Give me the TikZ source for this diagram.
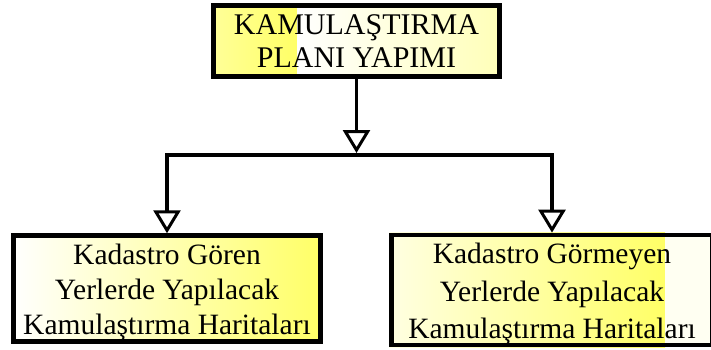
\documentclass[tikz,border=0pt]{standalone}
\usepackage{fontspec}
\setmainfont{Liberation Serif}
\usetikzlibrary{arrows.meta,backgrounds}
\definecolor{ydeep}{HTML}{FFFF66}
\definecolor{ysoft}{HTML}{FFFF99}
\definecolor{ypale}{HTML}{FFFFB8}
\definecolor{ycream}{HTML}{FFFFE2}
\definecolor{yfaint}{HTML}{FFFFF2}
\newcommand{\tallstrut}{\rule{0pt}{29pt}}
\begin{document}
\begin{tikzpicture}[x=1pt,y=-1pt,
  box/.style={draw, line width=4.5pt, align=center, inner sep=0pt,
              font=\fontsize{29.5}{35}\selectfont},
  link/.style={line width=3.5pt},
  arr/.style={link, -{Triangle[open,length=23pt,width=27pt,line width=3pt]}}]
\useasboundingbox (0,0) rectangle (711,349);

% boxes
\node[box, minimum width=286pt, minimum height=71pt,
      font=\fontsize{30}{32.5}\selectfont] (plan) at (356.5,41)
      {KAMULAŞTIRMA\\PLANI YAPIMI};
\node[box, minimum width=307pt, minimum height=106pt] (goren) at (167,288.5)
      {\tallstrut Kadastro Gören\\Yerlerde Yapılacak\\Kamulaştırma Haritaları};
\node[box, minimum width=321pt, minimum height=101pt,
      font=\fontsize{29.5}{37.5}\selectfont] (gormeyen) at (552,290)
      {\tallstrut Kadastro Görmeyen\\Yerlerde Yapılacak\\Kamulaştırma Haritaları};

% split points of the two-part fills
\coordinate (splitA) at (297,0);
\coordinate (splitB) at (665,0);

\begin{scope}[on background layer]
  \shade[left color=ysoft, right color=ydeep]
    (plan.north west) rectangle (plan.south -| splitA);
  \shade[left color=white, right color=ypale]
    (plan.north -| splitA) rectangle (plan.south east);
  \shade[left color=white, right color=ydeep]
    (goren.north west) rectangle (goren.south east);
  \shade[left color=ycream, right color=ydeep]
    (gormeyen.north west) rectangle (gormeyen.south -| splitB);
  \fill[yfaint]
    (gormeyen.north -| splitB) rectangle (gormeyen.south east);
\end{scope}

% connectors
\coordinate (barM) at (356.5,153);
\coordinate (barL) at (167,155);
\coordinate (barR) at (552,155);

\draw[arr] (plan.south) -- (barM);
\draw[link, line cap=rect] (barL) -- (barR);
\draw[arr] (barL) -- (goren.north);
\draw[arr] (barR) -- (gormeyen.north);
\end{tikzpicture}
\end{document}
